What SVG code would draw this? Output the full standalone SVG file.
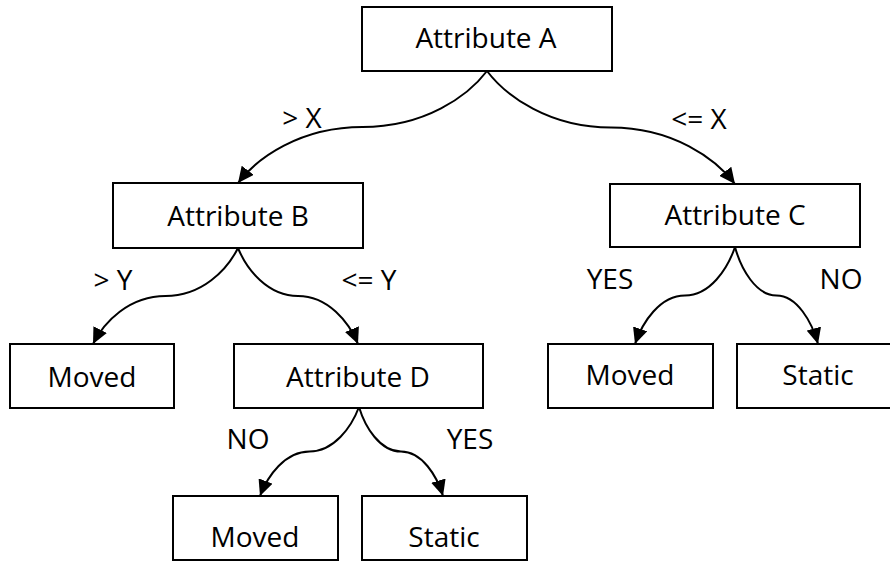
<svg xmlns="http://www.w3.org/2000/svg" width="890" height="561" viewBox="0 0 890 561">
  <style>
    .box { fill: #ffffff; stroke: #000000; stroke-width: 2; }
    .lbl { font-family: "Open Sans", "Noto Sans", "Liberation Sans", sans-serif; font-size: 28px; fill: #000000; text-anchor: middle; }
    .edge { fill: none; stroke: #000000; stroke-width: 2; marker-end: url(#arrow); }
  </style>
  <defs>
    <marker id="arrow" markerUnits="userSpaceOnUse" markerWidth="17" markerHeight="15" refX="16" refY="7.5" orient="auto">
      <path d="M0,0 L16,7.5 L0,15 Z" fill="#000000"/>
    </marker>
  </defs>
  <rect width="890" height="561" fill="#ffffff"/>

  <!-- connectors: S-curves from a parent's bottom centre to a child's top centre -->
  <g id="connectors">
    <path class="edge" d="M487,71 C468,96 425,127 362.5,127 C300,127 257,158 238,183"/>
    <path class="edge" d="M487,71 C506,96 549,127.5 611,127.5 C673,127.5 716,159 735,184"/>
    <path class="edge" d="M238,248 C227,270 202,296 165.5,296 C129,296 104,322 93,344"/>
    <path class="edge" d="M238,248 C247,270 268,296 298,296 C328,296 349,322 358,344"/>
    <path class="edge" d="M735,247 C727.5,269 710,295.5 685,295.5 C660,295.5 642.5,322 635,344"/>
    <path class="edge" d="M735,247 C741,269 756,295.5 776.5,295.5 C797,295.5 812,322 818,344"/>
    <path class="edge" d="M359,407 C351.5,427 334,451.5 309.5,451.5 C285,451.5 267.5,476 260,496"/>
    <path class="edge" d="M359,407 C365,427 380,451.5 401,451.5 C422,451.5 437,476 443,496"/>
  </g>

  <g id="edge-labels">
    <text class="lbl" x="302" y="128">&gt; X</text>
    <text class="lbl" x="699" y="129">&lt;= X</text>
    <text class="lbl" x="113" y="290">&gt; Y</text>
    <text class="lbl" x="369" y="290">&lt;= Y</text>
    <text class="lbl" x="610" y="289">YES</text>
    <text class="lbl" x="841" y="289">NO</text>
    <text class="lbl" x="248" y="449">NO</text>
    <text class="lbl" x="470" y="449">YES</text>
  </g>

  <g id="attribute-a">
    <rect class="box" x="362" y="7" width="250" height="64"/>
    <text class="lbl" x="486" y="48">Attribute A</text>
  </g>
  <g id="attribute-b">
    <rect class="box" x="113" y="183" width="250" height="65"/>
    <text class="lbl" x="238" y="226">Attribute B</text>
  </g>
  <g id="attribute-c">
    <rect class="box" x="610" y="184" width="250" height="63"/>
    <text class="lbl" x="735" y="225">Attribute C</text>
  </g>
  <g id="moved-b">
    <rect class="box" x="10" y="344" width="164" height="64"/>
    <text class="lbl" x="92" y="387">Moved</text>
  </g>
  <g id="attribute-d">
    <rect class="box" x="234" y="344" width="249" height="64"/>
    <text class="lbl" x="358" y="387">Attribute D</text>
  </g>
  <g id="moved-c">
    <rect class="box" x="548" y="344" width="165" height="64"/>
    <text class="lbl" x="630" y="385">Moved</text>
  </g>
  <g id="static-c">
    <rect class="box" x="737" y="344" width="165" height="64"/>
    <text class="lbl" x="818" y="385">Static</text>
  </g>
  <g id="moved-d">
    <rect class="box" x="173" y="496" width="165" height="64"/>
    <text class="lbl" x="255" y="547">Moved</text>
  </g>
  <g id="static-d">
    <rect class="box" x="362" y="496" width="165" height="64"/>
    <text class="lbl" x="444" y="547">Static</text>
  </g>
</svg>
